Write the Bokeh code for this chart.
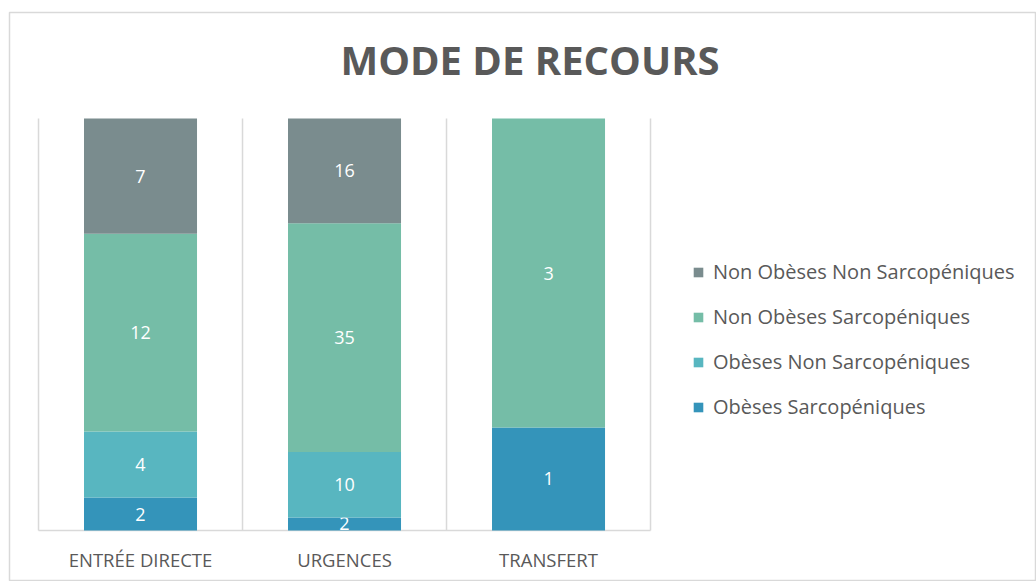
from bokeh.plotting import figure
from bokeh.models import ColumnDataSource, Range1d, Legend, LegendItem, Label
from bokeh.core.properties import value
from bokeh.embed import file_html
from bokeh.resources import INLINE

# ---- data ----
categories = ["ENTRÉE DIRECTE", "URGENCES", "TRANSFERT"]
series_names = ["Obèses Sarcopéniques", "Obèses Non Sarcopéniques",
                "Non Obèses Sarcopéniques", "Non Obèses Non Sarcopéniques"]
obeses_sarco = [2, 2, 1]
obeses_non_sarco = [4, 10, 0]
non_obeses_sarco = [12, 35, 3]
non_obeses_non_sarco = [7, 16, 0]
colors = ["#3494BA", "#58B6C0", "#75BDA7", "#7A8C8E"]
title_text = "MODE DE RECOURS"

series = [obeses_sarco, obeses_non_sarco, non_obeses_sarco, non_obeses_non_sarco]
n = len(categories)
totals = [sum(s[i] for s in series) for i in range(n)]
xs = [i + 0.5 for i in range(n)]

FONT = "Open Sans"
TXT = "#595959"
GRID = "#D9D9D9"

x0, x1 = -0.1422, 4.892
y0, y1 = -0.1238, 1.2573
p = figure(width=1036, height=581, x_range=Range1d(x0, x1), y_range=Range1d(y0, y1),
           x_axis_location=None, y_axis_location=None,
           toolbar_location=None, output_backend="svg",
           min_border_left=9, min_border_top=12, min_border_right=0, min_border_bottom=0)
p.outline_line_color = GRID
p.outline_line_width = 1.5
p.grid.visible = False
p.background_fill_color = "white"
p.border_fill_color = "white"

# category separators and baseline
bounds = list(range(n + 1))
p.segment(x0=bounds, y0=[0] * len(bounds), x1=bounds, y1=[1] * len(bounds),
          line_color=GRID, line_width=1.5)
p.segment(x0=[0], y0=[0], x1=[n], y1=[0], line_color=GRID, line_width=1.5)

bar_w = 0.554
cum = [0.0] * n
renderers = []
for name, vals, col in zip(series_names, series, colors):
    fr = [v / t for v, t in zip(vals, totals)]
    bottom = cum[:]
    top = [b + f for b, f in zip(bottom, fr)]
    src = ColumnDataSource(dict(x=xs, bottom=bottom, top=top))
    r = p.vbar(x="x", width=bar_w, bottom="bottom", top="top", source=src,
               fill_color=col, line_color=None)
    renderers.append((name, r))
    lx, ly, lt = [], [], []
    for i in range(n):
        if vals[i] > 0:
            lx.append(xs[i]); ly.append((bottom[i] + top[i]) / 2); lt.append(str(vals[i]))
    p.text(x=lx, y=ly, text=lt, text_color="white", text_font=value(FONT),
           text_font_size="18px", text_align="center", text_baseline="middle")
    cum = top

# category labels
p.text(x=xs, y=[-0.0704] * n, text=categories, text_color=TXT, text_font=value(FONT),
       text_font_size="18.5px", text_align="center", text_baseline="middle")

# title
p.add_layout(Label(x=(x0 + x1) / 2, y=1.143, x_offset=7, text=title_text,
                   text_font=FONT, text_font_style="bold", text_font_size="40px",
                   text_color=TXT, text_align="center", text_baseline="middle"))

legend = Legend(items=[LegendItem(label=nm, renderers=[r]) for nm, r in reversed(renderers)],
                location=(683, 161), orientation="vertical",
                border_line_color=None, background_fill_alpha=0,
                label_text_font=FONT, label_text_font_size="20px", label_text_color=TXT,
                glyph_width=12, glyph_height=12, label_height=20, spacing=18,
                padding=0, margin=0, label_standoff=9)
p.add_layout(legend)

open("out.html", "w").write(file_html(p, INLINE))
